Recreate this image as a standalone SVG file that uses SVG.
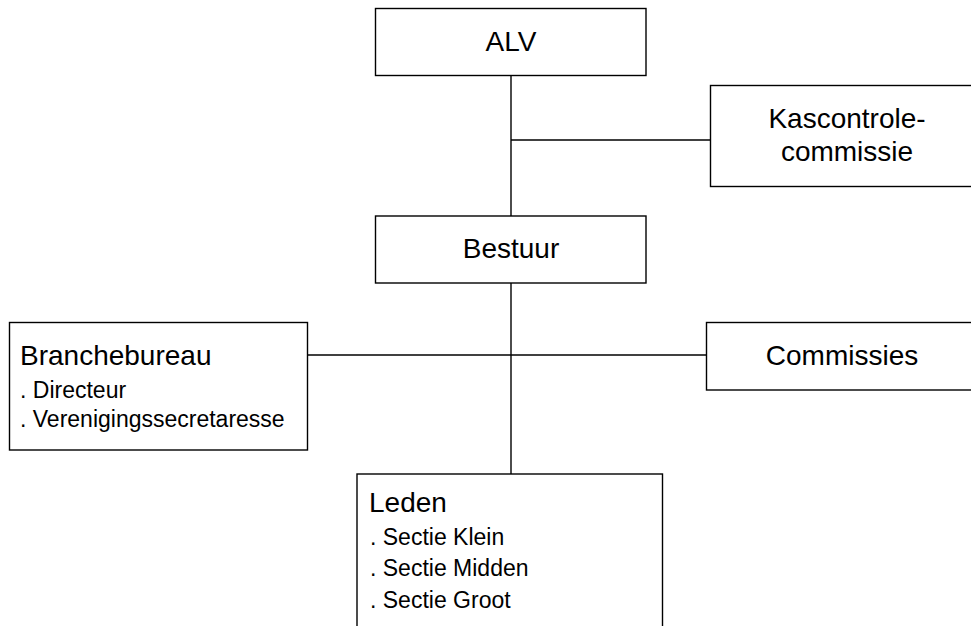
<svg xmlns="http://www.w3.org/2000/svg" width="971" height="626" viewBox="0 0 971 626">
<style>
.box{fill:#fff;stroke:#000;stroke-width:1.4}
.ln{stroke:#000;stroke-width:1.4;fill:none}
.t{font-family:"Liberation Sans",Arial,sans-serif;font-size:28px;fill:#000}
.s{font-family:"Liberation Sans",Arial,sans-serif;font-size:23px;fill:#000}
.c{text-anchor:middle}
</style>
<rect width="971" height="626" fill="#fff"/>
<g id="connectors">
<line class="ln" x1="511" y1="75.5" x2="511" y2="216"/>
<line class="ln" x1="511" y1="140" x2="710.5" y2="140"/>
<line class="ln" x1="511" y1="283" x2="511" y2="474"/>
<line class="ln" x1="308" y1="355" x2="706.5" y2="355"/>
</g>
<g id="alv">
<rect class="box" x="375.5" y="8.5" width="270.5" height="67"/>
<text class="t c" x="511" y="51">ALV</text>
</g>
<g id="kascontrole">
<rect class="box" x="710.5" y="85.5" width="275" height="101"/>
<text class="t c" x="847" y="128">Kascontrole-</text>
<text class="t c" x="847" y="161">commissie</text>
</g>
<g id="bestuur">
<rect class="box" x="375.5" y="216" width="270.5" height="67"/>
<text class="t c" x="511" y="258">Bestuur</text>
</g>
<g id="branchebureau">
<rect class="box" x="9.5" y="322.5" width="298" height="127.5"/>
<text class="t" x="20" y="365">Branchebureau</text>
<text class="s" x="20" y="398">. Directeur</text>
<text class="s" x="20" y="427">. Verenigingssecretaresse</text>
</g>
<g id="commissies">
<rect class="box" x="706.5" y="322.5" width="280" height="67.5"/>
<text class="t c" x="842" y="365">Commissies</text>
</g>
<g id="leden">
<rect class="box" x="357" y="474" width="305.5" height="200"/>
<text class="t" x="369" y="512">Leden</text>
<text class="s" x="370" y="545">. Sectie Klein</text>
<text class="s" x="370" y="576">. Sectie Midden</text>
<text class="s" x="370" y="608">. Sectie Groot</text>
</g>
</svg>
